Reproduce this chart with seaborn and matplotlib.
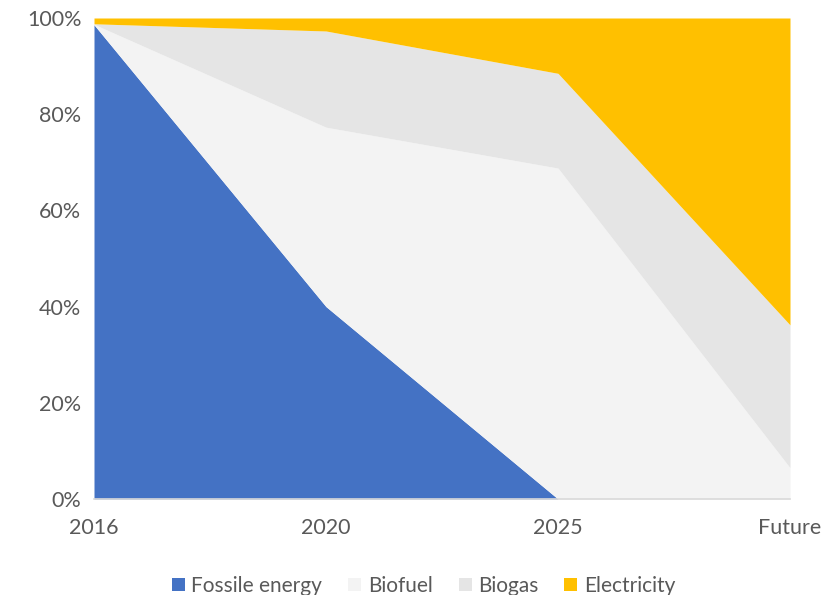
import numpy as np
import pandas as pd
import matplotlib
matplotlib.use("Agg")
import matplotlib.pyplot as plt
import seaborn as sns
from matplotlib.patches import Patch
from matplotlib.ticker import PercentFormatter

# data (shares, %)
years = ["2016", "2020", "2025", "Future"]
fossil = [98.6, 40.0, 0.0, 0.0]
biofuel = [0.1, 37.3, 68.8, 6.5]
biogas = [0.1, 20.0, 19.7, 29.7]
electricity = [1.2, 2.7, 11.5, 63.8]

series_names = ["Fossile energy", "Biofuel", "Biogas", "Electricity"]
colors = ["#4472C4", "#F3F3F3", "#E5E5E5", "#FFC000"]

df = pd.DataFrame({"Fossile energy": fossil, "Biofuel": biofuel,
                   "Biogas": biogas, "Electricity": electricity}, index=years)

sns.set_theme(style="white")
plt.rcParams['font.family'] = ['Lato', 'DejaVu Sans']
text_color = "#595959"

fig = plt.figure(figsize=(8.37, 5.95), dpi=100)
ax = fig.add_axes([94/837, 96/595, (790-94)/837, (499-18)/595])

x = np.arange(len(years))
ax.stackplot(x, [df[c] for c in series_names], colors=colors, linewidth=0)

ax.set_xlim(0, len(years) - 1)
ax.set_ylim(0, 100)
ax.set_xticks(x)
ax.set_xticklabels(years)
ax.set_yticks(np.arange(0, 101, 20))
ax.yaxis.set_major_formatter(PercentFormatter(decimals=0))

for s in ["top", "right", "left"]:
    ax.spines[s].set_visible(False)
ax.spines["bottom"].set_color("#D9D9D9")
ax.spines["bottom"].set_linewidth(1.2)

ax.tick_params(axis="x", colors=text_color, labelsize=15.5, length=5,
               width=1.2, direction="out", pad=9)
ax.tick_params(axis="x", color="#D9D9D9")
ax.tick_params(axis="y", colors=text_color, labelsize=15.5, length=0, pad=9)
ax.grid(False)

handles = [Patch(facecolor=c, edgecolor="none") for c in colors]
fig.legend(handles, series_names, loc="lower center", ncol=4, frameon=False,
           bbox_to_anchor=(0.506, -0.033), fontsize=15, handlelength=0.63,
           handleheight=0.63, handletextpad=0.3, columnspacing=1.25,
           labelcolor=text_color)

fig.savefig("out.png", dpi=100)
